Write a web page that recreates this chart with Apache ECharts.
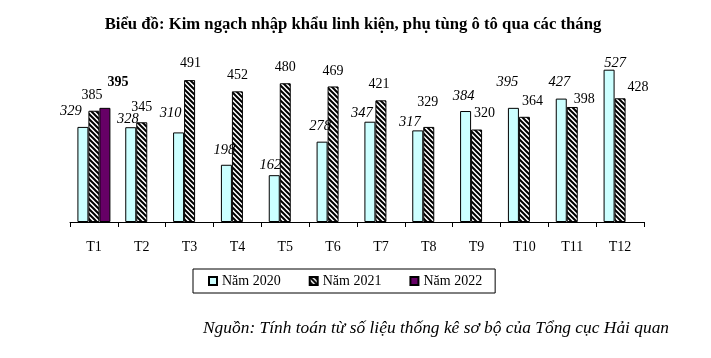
<!DOCTYPE html>
<html><head><meta charset="utf-8">
<script src="https://cdn.jsdelivr.net/npm/echarts@6/dist/echarts.min.js"></script>
<style>html,body{margin:0;padding:0;background:#fff}#c{width:711px;height:358px}</style>
</head><body><div id="c"></div>
<script>
const categories = ['T1','T2','T3','T4','T5','T6','T7','T8','T9','T10','T11','T12'];
const values2020 = [329, 328, 310, 198, 162, 278, 347, 317, 384, 395, 427, 527];
const values2021 = [385, 345, 491, 452, 480, 469, 421, 329, 320, 364, 398, 428];
const values2022 = [395, null, null, null, null, null, null, null, null, null, null, null];
const seriesNames = ['Năm 2020', 'Năm 2021', 'Năm 2022'];

// label nudges (style only), [dx, dy] relative to bar top centre
const shift2020 = [[-12,-16],[-3,-8],[-8,-19],[-2,-15],[-4,-10],[-2,-15],[-8,-9],[-8,-8],[-2,-15],[-6,-26],[-2,-16],[6,-7]];
const shift2021 = [[-2,-15],[0,-15],[1,-17],[0,-16],[0,-16],[0,-15],[-2,-16],[-1,-25],[8,-16],[8,-15],[12,-8],[18,-11]];
const shift2022 = [[13,-25]];

function stripePattern(){
  const n=5;
  const c=document.createElement('canvas'); c.width=n; c.height=n;
  const g=c.getContext('2d');
  g.fillStyle='#fff'; g.fillRect(0,0,n,n);
  g.strokeStyle='#000'; g.lineWidth=2;
  g.beginPath();
  g.moveTo(-2,-2); g.lineTo(n+2,n+2);
  g.moveTo(n-2,-2); g.lineTo(n+2,2);
  g.moveTo(-2,n-2); g.lineTo(2,n+2);
  g.stroke();
  return c;
}

function build(vals, shifts){
  return vals.map((v,i)=>{
    if (v===null) return null;
    const s = shifts[i] || [0,0];
    return {value:v, label:{offset:[s[0], s[1]+7]}};
  });
}

const serif = '"Liberation Serif","Times New Roman",serif';
const chart = echarts.init(document.getElementById('c'), null, {renderer:'canvas'});
const baseLabel = {show:true, position:'top', distance:0, color:'#000', fontFamily:serif, fontSize:14, lineHeight:14};
chart.setOption({
  animation:false,
  backgroundColor:'#fff',
  title:{
    text:'Biểu đồ: Kim ngạch nhập khẩu linh kiện, phụ tùng ô tô qua các tháng',
    left:348, textAlign:'center', top:11,
    textStyle:{fontFamily:serif, fontSize:16.7, fontWeight:'bold', color:'#000'}
  },
  graphic:[{
    type:'text', left:203, top:320,
    style:{text:'Nguồn: Tính toán từ số liệu thống kê sơ bộ của Tổng cục Hải quan', font:'italic 17.4px "Liberation Serif", serif', fill:'#000'}
  }],
  legend:{
    data:seriesNames,
    left:193, top:269,
    orient:'horizontal',
    itemWidth:8, itemHeight:8, itemGap:28,
    padding:[5,13,5,15],
    borderColor:'#000', borderWidth:1,
    textStyle:{fontFamily:serif, fontSize:14, color:'#000'},
    icon:'rect'
  },
  grid:{left:70, right:711-644, top:48.6, bottom:136, containLabel:false},
  xAxis:{
    type:'category', data:categories, boundaryGap:true,
    axisLine:{lineStyle:{color:'#000', width:1}},
    axisTick:{show:true, length:5, inside:false, lineStyle:{color:'#000'}},
    axisLabel:{color:'#000', fontFamily:serif, fontSize:14, margin:18}
  },
  yAxis:{type:'value', min:0, max:600, show:false, splitLine:{show:false}},
  series:[
    {name:seriesNames[0], type:'bar', barWidth:11, barGap:'0%',
     itemStyle:{color:'#ccffff', borderColor:'#000', borderWidth:1},
     label:Object.assign({}, baseLabel, {fontStyle:'italic', fontSize:14.5}),
     data:build(values2020, shift2020)},
    {name:seriesNames[1], type:'bar', barWidth:11, barGap:'0%',
     itemStyle:{color:{image:stripePattern(), repeat:'repeat'}, borderColor:'#000', borderWidth:1},
     label:Object.assign({}, baseLabel),
     data:build(values2021, shift2021)},
    {name:seriesNames[2], type:'bar', barWidth:11, barGap:'0%',
     itemStyle:{color:'#660066', borderColor:'#000', borderWidth:1},
     label:Object.assign({}, baseLabel, {fontWeight:'bold'}),
     data:build(values2022, shift2022)}
  ]
});
</script></body></html>
